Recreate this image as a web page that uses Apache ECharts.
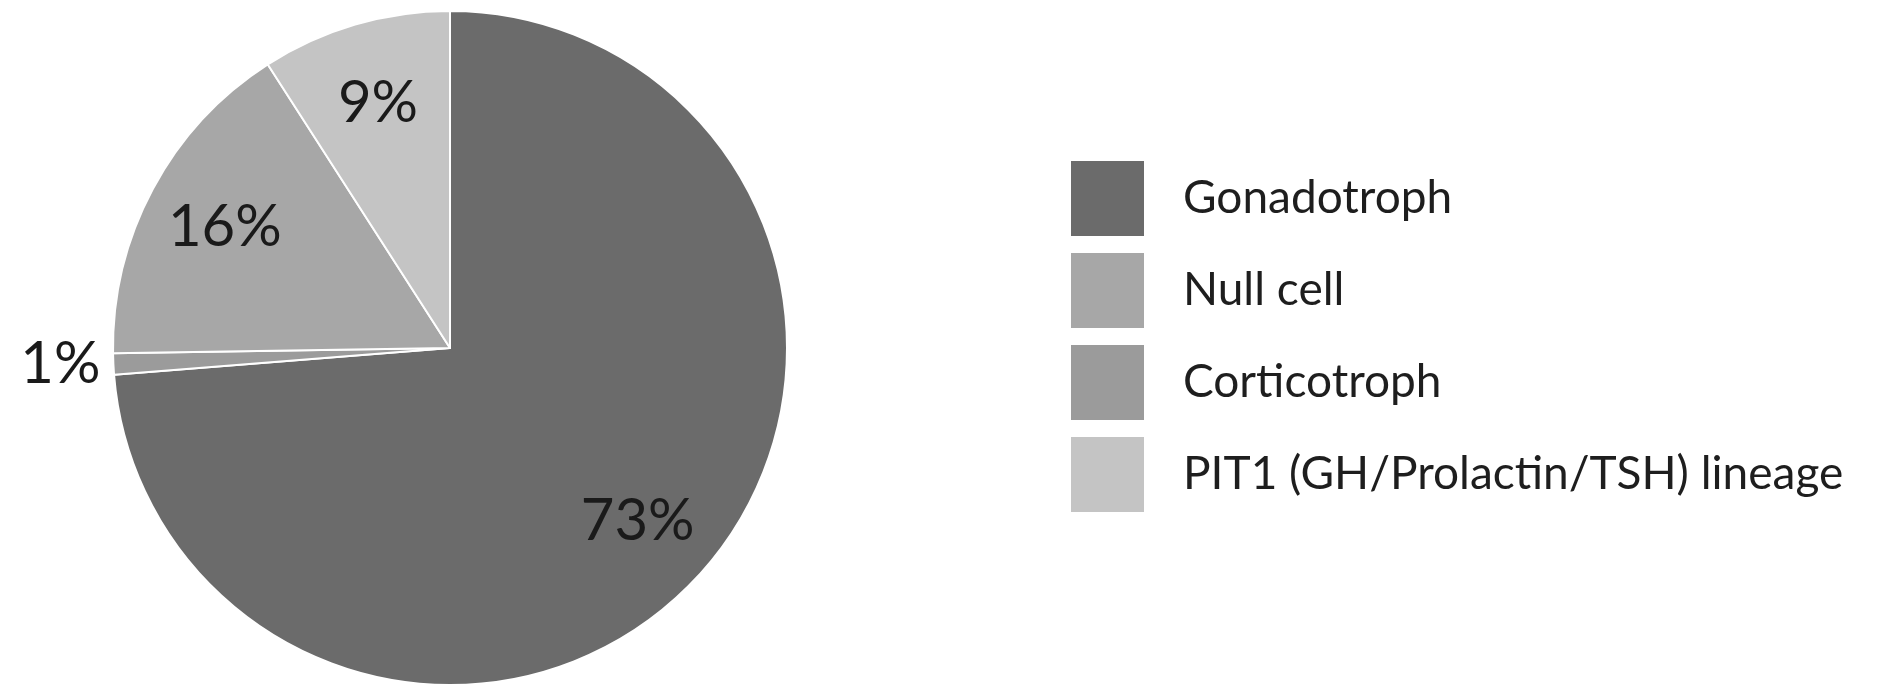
<!DOCTYPE html>
<html>
<head>
<meta charset="utf-8">
<script src="https://cdn.jsdelivr.net/npm/echarts@6/dist/echarts.min.js"></script>
<style>
html,body{margin:0;padding:0;background:#fff;}
#chart{width:1901px;height:695px;}
</style>
</head>
<body>
<div id="chart"></div>
<script>
// Slices in drawing order (clockwise from 12 o'clock)
const categories = ['Gonadotroph', 'Corticotroph', 'Null cell', 'PIT1 (GH/Prolactin/TSH) lineage'];
const values = [73, 1, 16, 9];
const colors = ['#6b6b6b', '#9b9b9b', '#a7a7a7', '#c4c4c4'];
// Legend order as shown in the reference
const legendOrder = ['Gonadotroph', 'Null cell', 'Corticotroph', 'PIT1 (GH/Prolactin/TSH) lineage'];

const chart = echarts.init(document.getElementById('chart'), null, {renderer: 'canvas'});

const center = [450, 348];
const R = 337;

const sliceData = categories.map((c, i) => ({
  name: c, value: values[i], itemStyle: {color: colors[i]}
}));

const labelData = categories.map((c, i) => {
  const d = {name: c, value: values[i], itemStyle: {color: 'rgba(0,0,0,0)'}};
  if (values[i] < 3) {
    d.label = {position: 'outside'};
    d.labelLine = {show: false, length: 8, length2: 0};
  }
  return d;
});

const option = {
  animation: false,
  backgroundColor: '#ffffff',
  legend: {
    orient: 'vertical',
    left: 1064,
    top: 154,
    itemWidth: 75,
    itemHeight: 77,
    itemGap: 13,
    icon: 'rect',
    selectedMode: false,
    data: legendOrder.map(n => ({name: n, itemStyle: {color: colors[categories.indexOf(n)]}})),
    textStyle: {
      fontFamily: 'Lato',
      fontSize: 46,
      color: '#1e1e1e',
      padding: [0, 0, 0, 33]
    }
  },
  series: [
    {
      type: 'pie',
      center: center,
      radius: [0, R],
      startAngle: 90,
      clockwise: true,
      silent: true,
      avoidLabelOverlap: false,
      label: {show: false},
      labelLine: {show: false},
      itemStyle: {borderColor: '#ffffff', borderWidth: 2},
      data: sliceData
    },
    {
      type: 'pie',
      center: center,
      radius: [168, R],
      startAngle: 90,
      clockwise: true,
      silent: true,
      avoidLabelOverlap: false,
      legendHoverLink: false,
      label: {
        show: true,
        position: 'inside',
        formatter: p => p.value + '%',
        fontFamily: 'Lato',
        fontSize: 58,
        color: '#1a1a1a',
        distanceToLabelLine: 5
      },
      labelLine: {show: false},
      itemStyle: {borderWidth: 0},
      data: labelData
    }
  ]
};

chart.setOption(option);
</script>
</body>
</html>
